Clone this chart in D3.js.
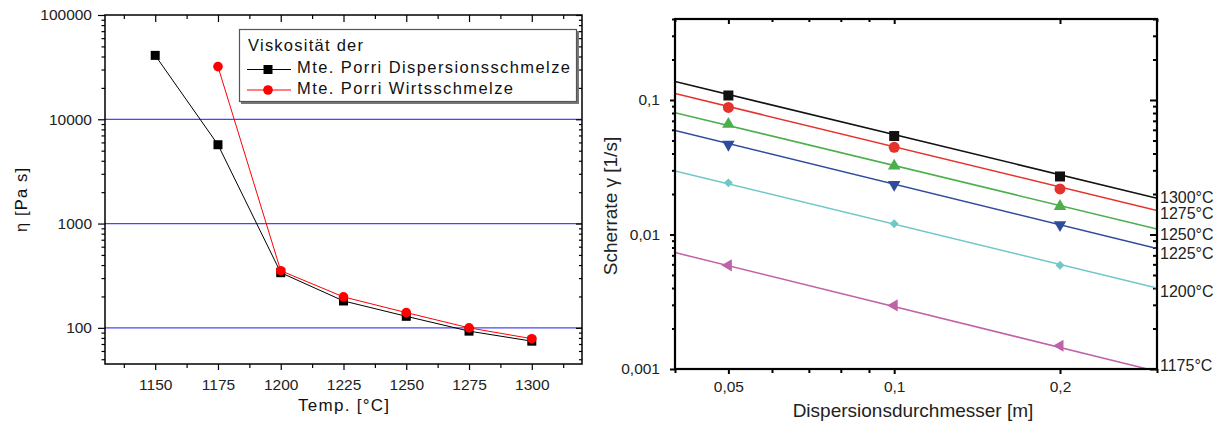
<!DOCTYPE html>
<html>
<head>
<meta charset="utf-8">
<script src="https://cdn.jsdelivr.net/npm/d3@7/dist/d3.min.js"></script>
<style>
  html, body { margin: 0; padding: 0; background: #fff; }
  svg { display: block; font-family: "Liberation Sans", Arial, sans-serif; }
</style>
</head>
<body>
<svg id="chart" width="1223" height="423"></svg>
<script>
// ---- Viscosity vs. temperature ----
const temps = [1150, 1175, 1200, 1225, 1250, 1275, 1300];
const viscDispersion = [41000, 5700, 338, 181, 129, 93, 74.5];
const tempsHost = [1175, 1200, 1225, 1250, 1275, 1300];
const viscHost = [32000, 353, 198, 140, 100, 78.7];
const legendTitle = "Viskosität der";
const legendLabels = ["Mte. Porri Dispersionsschmelze", "Mte. Porri Wirtsschmelze"];
const tempTicks = [1150, 1175, 1200, 1225, 1250, 1275, 1300];
const viscTicks = [100, 1000, 10000, 100000];
const viscGrid = [100, 1000, 10000];

// ---- Shear rate vs. dispersion diameter ----
const diameters = [0.05, 0.1, 0.2];
const rate1300 = [0.108, 0.054, 0.027];
const rate1275 = [0.088, 0.0445, 0.0218];
const rate1250 = [0.066, 0.0323, 0.0162];
const rate1225 = [0.0467, 0.0235, 0.0118];
const rate1200 = [0.0242, 0.012, 0.0059];
const rate1175 = [0.0059, 0.00297, 0.00149];
const fitX = [0.04, 0.3];
const fitStart = [0.137, 0.1116, 0.0805, 0.0594, 0.0297, 0.00734];
const fitEnd = [0.0186, 0.0151, 0.011, 0.00786, 0.0040, 0.00096];
const seriesLabels = ["1300°C", "1275°C", "1250°C", "1225°C", "1200°C", "1175°C"];
const diamTicks = [0.05, 0.1, 0.2];
const diamTickLabels = ["0,05", "0,1", "0,2"];
const rateTicks = [0.001, 0.01, 0.1];
const rateTickLabels = ["0,001", "0,01", "0,1"];

const svg = d3.select("#chart");

function logMinor(lo, hi) {
  const out = [];
  for (let e = Math.floor(Math.log10(lo)); e <= Math.ceil(Math.log10(hi)); e++) {
    for (let m = 1; m < 10; m++) {
      const v = +(m * Math.pow(10, e)).toPrecision(6);
      if (v >= lo * 0.9999 && v <= hi * 1.0001) out.push(v);
    }
  }
  return out;
}

function styleAxis(g, width) {
  g.select(".domain").remove();
  g.selectAll(".tick line").attr("stroke", "#000").attr("stroke-width", width);
}

// =================== Left panel ===================
{
  const L = 105, R = 582, T = 15, B = 364;
  const x = d3.scaleLinear().domain([1130, 1320]).range([L, R]);
  const y = d3.scaleLog().domain([45, 100000]).range([B, T]);
  const g = svg.append("g");

  // horizontal reference lines
  g.selectAll("line.grid").data(viscGrid).join("line")
    .attr("x1", L).attr("x2", R)
    .attr("y1", d => y(d)).attr("y2", d => y(d))
    .attr("stroke", "#4646ff").attr("stroke-width", 1.3);

  const xMinor = d3.range(1137.5, 1320, 12.5).filter(v => !tempTicks.includes(v));
  const yMinor = logMinor(45, 100000).filter(v => !viscTicks.includes(v));

  // bottom
  g.append("g").attr("transform", `translate(0,${B})`)
    .call(d3.axisBottom(x).tickValues(tempTicks).tickSize(6).tickPadding(9).tickFormat(d3.format("d")))
    .call(a => styleAxis(a, 1.2))
    .call(a => a.selectAll("text").attr("font-size", 15.5).attr("fill", "#222").attr("font-family", "Liberation Sans, Arial"));
  g.append("g").attr("transform", `translate(0,${B})`)
    .call(d3.axisBottom(x).tickValues(xMinor).tickSize(4).tickFormat(""))
    .call(a => styleAxis(a, 1.2));
  // top (inward)
  g.append("g").attr("transform", `translate(0,${T})`)
    .call(d3.axisTop(x).tickValues(tempTicks).tickSize(-7).tickFormat(""))
    .call(a => styleAxis(a, 1.2));
  g.append("g").attr("transform", `translate(0,${T})`)
    .call(d3.axisTop(x).tickValues(xMinor).tickSize(-4).tickFormat(""))
    .call(a => styleAxis(a, 1.2));
  // left
  g.append("g").attr("transform", `translate(${L},0)`)
    .call(d3.axisLeft(y).tickValues(viscTicks).tickSize(7).tickPadding(6).tickFormat(d3.format("d")))
    .call(a => styleAxis(a, 1.2))
    .call(a => a.selectAll("text").attr("font-size", 15.5).attr("fill", "#222").attr("font-family", "Liberation Sans, Arial"));
  g.append("g").attr("transform", `translate(${L},0)`)
    .call(d3.axisLeft(y).tickValues(yMinor).tickSize(3.5).tickFormat(""))
    .call(a => styleAxis(a, 1.2));
  // right (inward)
  g.append("g").attr("transform", `translate(${R},0)`)
    .call(d3.axisRight(y).tickValues(viscTicks).tickSize(-6).tickFormat(""))
    .call(a => styleAxis(a, 1.2));
  g.append("g").attr("transform", `translate(${R},0)`)
    .call(d3.axisRight(y).tickValues(yMinor).tickSize(-3).tickFormat(""))
    .call(a => styleAxis(a, 1.2));

  g.append("rect").attr("x", L).attr("y", T).attr("width", R - L).attr("height", B - T)
    .attr("fill", "none").attr("stroke", "#000").attr("stroke-width", 1.5);

  // series
  const line = d3.line().x(d => x(d[0])).y(d => y(d[1]));
  const disp = temps.map((t, i) => [t, viscDispersion[i]]);
  const host = tempsHost.map((t, i) => [t, viscHost[i]]);

  g.append("path").datum(disp).attr("d", line).attr("fill", "none").attr("stroke", "#000").attr("stroke-width", 1);
  g.append("path").datum(host).attr("d", line).attr("fill", "none").attr("stroke", "#f00").attr("stroke-width", 1);

  g.selectAll("rect.mk").data(disp).join("rect")
    .attr("x", d => x(d[0]) - 4.5).attr("y", d => y(d[1]) - 4.5)
    .attr("width", 9).attr("height", 9).attr("fill", "#000");
  g.selectAll("circle.mk").data(host).join("circle")
    .attr("cx", d => x(d[0])).attr("cy", d => y(d[1])).attr("r", 4.8).attr("fill", "#f00");

  // legend
  const lg = g.append("g");
  lg.append("rect").attr("x", 241).attr("y", 31).attr("width", 338).attr("height", 73).attr("fill", "#777");
  lg.append("rect").attr("x", 239.5).attr("y", 29.5).attr("width", 337).attr("height", 72)
    .attr("fill", "#fff").attr("stroke", "#555").attr("stroke-width", 1.2);
  lg.append("text").attr("x", 248).attr("y", 50.5).attr("font-size", 16.5).attr("fill", "#111")
    .attr("textLength", 115).attr("lengthAdjust", "spacing").text(legendTitle);
  const rows = [
    { y: 69.5, base: 73, color: "#000", shape: "rect", len: 273 },
    { y: 90, base: 93.5, color: "#f00", shape: "circle", len: 216 }
  ];
  rows.forEach((r, i) => {
    lg.append("line").attr("x1", 247).attr("x2", 291).attr("y1", r.y).attr("y2", r.y)
      .attr("stroke", r.color).attr("stroke-width", 1);
    if (r.shape === "rect") {
      lg.append("rect").attr("x", 268 - 4.5).attr("y", r.y - 4.5).attr("width", 9).attr("height", 9).attr("fill", r.color);
    } else {
      lg.append("circle").attr("cx", 268).attr("cy", r.y).attr("r", 4.8).attr("fill", r.color);
    }
    lg.append("text").attr("x", 297).attr("y", r.base).attr("font-size", 16.5).attr("fill", "#111")
      .attr("textLength", r.len).attr("lengthAdjust", "spacing").text(legendLabels[i]);
  });

  // axis titles
  g.append("text").attr("x", (L + R) / 2).attr("y", 411).attr("text-anchor", "middle")
    .attr("font-size", 17).attr("fill", "#111").attr("textLength", 91).attr("lengthAdjust", "spacing")
    .text("Temp. [°C]");
  g.append("text").attr("transform", "translate(27,200) rotate(-90)").attr("text-anchor", "middle")
    .attr("font-size", 16.5).attr("fill", "#111").attr("textLength", 64).attr("lengthAdjust", "spacing")
    .text("η [Pa s]");
}

// =================== Right panel ===================
{
  const L = 675, R = 1157, T = 19, B = 369;
  const x = d3.scaleLog().domain([0.04, 0.3]).range([L, R]);
  const y = d3.scaleLog().domain([0.001, 0.4]).range([B, T]);
  const g = svg.append("g");

  g.append("clipPath").attr("id", "clipR").append("rect")
    .attr("x", L).attr("y", T).attr("width", R - L).attr("height", B - T);

  const xMinor = logMinor(0.04, 0.3).filter(v => !diamTicks.includes(v));
  const yMinor = logMinor(0.001, 0.4).filter(v => !rateTicks.includes(v));
  const fmtX = d => diamTickLabels[diamTicks.indexOf(d)];
  const fmtY = d => rateTickLabels[rateTicks.indexOf(d)];

  g.append("g").attr("transform", `translate(0,${B})`)
    .call(d3.axisBottom(x).tickValues(diamTicks).tickSize(5).tickPadding(7).tickFormat(fmtX))
    .call(a => styleAxis(a, 2))
    .call(a => a.selectAll("text").attr("font-size", 15.5).attr("fill", "#222").attr("font-family", "Liberation Sans, Arial"));
  g.append("g").attr("transform", `translate(0,${B})`)
    .call(d3.axisBottom(x).tickValues(xMinor).tickSize(4).tickFormat(""))
    .call(a => styleAxis(a, 2));
  g.append("g").attr("transform", `translate(0,${T})`)
    .call(d3.axisTop(x).tickValues(diamTicks).tickSize(-5).tickFormat(""))
    .call(a => styleAxis(a, 2));
  g.append("g").attr("transform", `translate(0,${T})`)
    .call(d3.axisTop(x).tickValues(xMinor).tickSize(-3).tickFormat(""))
    .call(a => styleAxis(a, 2));
  g.append("g").attr("transform", `translate(${L},0)`)
    .call(d3.axisLeft(y).tickValues(rateTicks).tickSize(5).tickPadding(10).tickFormat(fmtY))
    .call(a => styleAxis(a, 2))
    .call(a => a.selectAll("text").attr("font-size", 15.5).attr("fill", "#222").attr("font-family", "Liberation Sans, Arial"));
  g.append("g").attr("transform", `translate(${L},0)`)
    .call(d3.axisLeft(y).tickValues(yMinor).tickSize(3).tickFormat(""))
    .call(a => styleAxis(a, 2));
  g.append("g").attr("transform", `translate(${R},0)`)
    .call(d3.axisRight(y).tickValues(rateTicks).tickSize(-7).tickFormat(""))
    .call(a => styleAxis(a, 2));
  g.append("g").attr("transform", `translate(${R},0)`)
    .call(d3.axisRight(y).tickValues(yMinor).tickSize(-4).tickFormat(""))
    .call(a => styleAxis(a, 2));

  const series = [
    { v: rate1300, color: "#111111", shape: d3.symbolSquare, size: 100, rot: 0 },
    { v: rate1275, color: "#e6322c", shape: d3.symbolCircle, size: 95, rot: 0 },
    { v: rate1250, color: "#4cae4c", shape: d3.symbolTriangle, size: 68, rot: 0 },
    { v: rate1225, color: "#2e4b9c", shape: d3.symbolTriangle, size: 68, rot: 180 },
    { v: rate1200, color: "#6fc7c7", shape: d3.symbolSquare, size: 40, rot: 45 },
    { v: rate1175, color: "#c062a8", shape: d3.symbolTriangle, size: 64, rot: -90 }
  ];

  const line = d3.line().x(d => x(d[0])).y(d => y(d[1]));
  const plot = g.append("g").attr("clip-path", "url(#clipR)");
  series.forEach((s, i) => {
    plot.append("path").datum([[fitX[0], fitStart[i]], [fitX[1], fitEnd[i]]])
      .attr("d", line).attr("fill", "none").attr("stroke", s.color).attr("stroke-width", 1.5);
  });
  series.forEach(s => {
    plot.selectAll(null).data(diameters.map((d, j) => [d, s.v[j]])).join("path")
      .attr("d", d3.symbol().type(s.shape).size(s.size))
      .attr("transform", d => `translate(${x(d[0])},${y(d[1])}) rotate(${s.rot})`)
      .attr("fill", s.color);
  });

  g.append("rect").attr("x", L).attr("y", T).attr("width", R - L).attr("height", B - T)
    .attr("fill", "none").attr("stroke", "#000").attr("stroke-width", 2.2);

  // series labels beside the line ends, nudged apart where they crowd
  const labelNudge = [-1, 3, 5.5, 4.5, 3.5, -6.5];
  series.forEach((s, i) => {
    g.append("text").attr("x", 1160).attr("y", y(fitEnd[i]) + labelNudge[i])
      .attr("dy", "0.36em").attr("font-size", 16).attr("fill", "#222").text(seriesLabels[i]);
  });

  g.append("text").attr("x", 913).attr("y", 417).attr("text-anchor", "middle")
    .attr("font-size", 19).attr("fill", "#222").text("Dispersionsdurchmesser [m]");
  g.append("text").attr("transform", "translate(617,206) rotate(-90)").attr("text-anchor", "middle")
    .attr("font-size", 19).attr("fill", "#222").text("Scherrate γ [1/s]");
}
</script>
</body>
</html>
